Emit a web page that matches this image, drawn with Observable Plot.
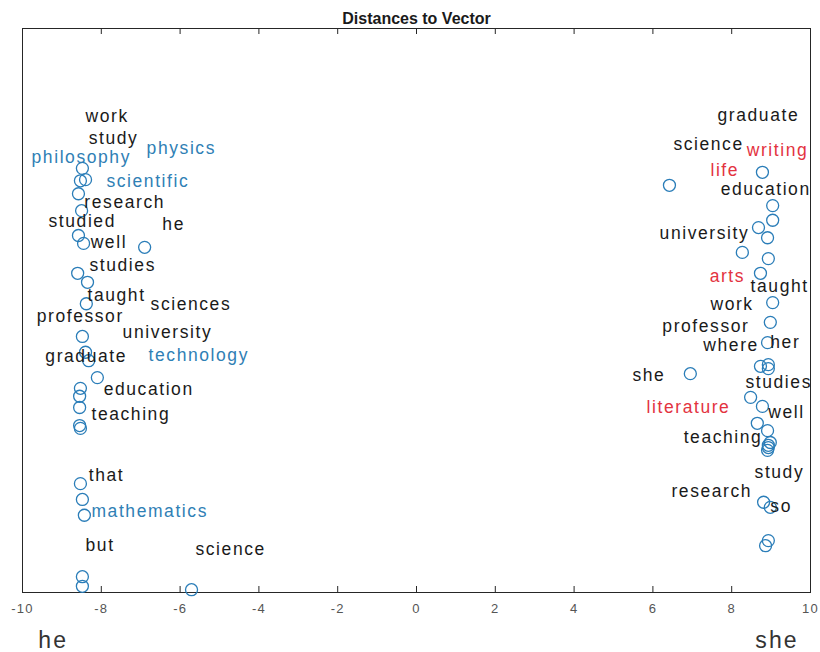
<!DOCTYPE html>
<html>
<head>
<meta charset="utf-8">
<script src="https://cdn.jsdelivr.net/npm/d3@7"></script>
<script src="https://cdn.jsdelivr.net/npm/@observablehq/plot@0.6"></script>
<style>
  html, body { margin: 0; padding: 0; background: #fff; }
  #chart svg { display: block; }
</style>
</head>
<body>
<div id="chart"></div>
<script>
// ---- Data (x = distance value, y = vertical position in 0..100 plot units) ----
const circleX = [
  -8.48, -8.53, -8.40, -8.58, -8.50, -8.58, -8.45, -6.90, -8.60, -8.35, -8.38, -8.48, -8.40,
  -8.32, -8.10, -8.53, -8.55, -8.55, -8.55, -8.53, -8.53, -8.48, -8.43, -8.48, -8.48, -5.71,
  8.78, 6.42, 9.04, 9.04, 8.68, 8.91, 8.27, 8.93, 8.73, 9.04, 8.98, 8.91, 8.73, 8.93,
  8.93, 6.95, 8.48, 8.78, 8.65, 8.91, 8.98, 8.93, 8.93, 8.91, 8.81, 8.98, 8.93, 8.86
];
const circleY = [
  75.2, 73.0, 73.2, 70.7, 67.7, 63.3, 61.9, 61.2, 56.6, 55.0, 51.2, 45.4, 42.6,
  41.1, 38.1, 36.2, 34.8, 32.8, 29.6, 29.1, 19.3, 16.5, 13.7, 2.8, 1.1, 0.5,
  74.5, 72.2, 68.6, 66.0, 64.7, 62.9, 60.3, 59.2, 56.6, 51.4, 47.9, 44.3, 40.1, 40.4,
  39.7, 38.8, 34.6, 33.0, 30.0, 28.7, 26.6, 26.1, 25.7, 25.2, 16.0, 15.1, 9.2, 8.3
];

const words = [
  "work", "study", "philosophy", "physics", "scientific", "research", "studied", "he", "well",
  "studies", "taught", "sciences", "professor", "university", "graduate", "technology",
  "education", "teaching", "that", "mathematics", "but", "science",
  "graduate", "science", "writing", "life", "education", "university", "arts", "taught",
  "work", "professor", "where", "her", "she", "studies", "literature", "well", "teaching",
  "study", "research", "so"
];
const wordX = [
  -8.40, -8.32, -9.77, -6.85, -7.87, -8.43, -9.34, -6.45, -8.27,
  -8.30, -8.35, -6.75, -9.64, -7.46, -9.42, -6.80,
  -7.94, -8.25, -8.32, -8.25, -8.40, -5.61,
  7.64, 6.52, 8.38, 7.46, 7.72, 6.17, 7.44, 8.48,
  7.46, 6.24, 7.28, 8.98, 5.48, 8.35, 5.84, 8.93, 6.78,
  8.58, 6.47, 8.98
];
const wordY = [
  84.4, 80.5, 77.1, 78.7, 72.9, 69.1, 65.8, 65.2, 62.1,
  58.0, 52.7, 51.1, 48.9, 46.1, 41.8, 42.0,
  36.0, 31.6, 20.7, 14.4, 8.3, 7.6,
  84.6, 79.4, 78.4, 74.8, 71.5, 63.7, 56.0, 54.3,
  51.1, 47.2, 43.8, 44.3, 38.5, 37.2, 32.8, 31.9, 27.5,
  21.3, 17.9, 15.2
];
// group: "n" neutral, "m" male-leaning highlight, "f" female-leaning highlight
const wordGroup = [
  "n", "n", "m", "m", "m", "n", "n", "n", "n",
  "n", "n", "n", "n", "n", "n", "m",
  "n", "n", "n", "m", "n", "n",
  "n", "n", "f", "f", "n", "n", "f", "n",
  "n", "n", "n", "n", "n", "n", "f", "n", "n",
  "n", "n", "n"
];
const xTicks = [-10, -8, -6, -4, -2, 0, 2, 4, 6, 8, 10];
const endLabels = ["he", "she"];
const endLabelX = [-9.22, 9.15];
const title = "Distances to Vector";

// ---- Build tables ----
const circles = circleX.map((x, i) => ({x, y: circleY[i]}));
const labels = words.map((w, i) => ({w, x: wordX[i], y: wordY[i], g: wordGroup[i]}));
const ends = endLabels.map((t, i) => ({t, x: endLabelX[i]}));
const groupColor = {n: "#1a1a1a", m: "#2f80b5", f: "#e3333f"};

const chart = Plot.plot({
  width: 820,
  height: 652,
  marginLeft: 22,
  marginRight: 10,
  marginTop: 28,
  marginBottom: 60,
  style: {fontFamily: "'Liberation Sans', Arial, sans-serif", background: "#fff", overflow: "visible"},
  x: {domain: [-10, 10], axis: null},
  y: {domain: [0, 100], axis: null},
  marks: [
    Plot.ruleX(xTicks, {x: d => d, insetTop: 558, stroke: "#262626", strokeWidth: 1}),
    Plot.ruleX(xTicks, {x: d => d, insetBottom: 558, stroke: "#262626", strokeWidth: 1}),
    Plot.frame({stroke: "#262626", strokeWidth: 1}),
    Plot.text(xTicks, {
      x: d => d, text: d => String(d), frameAnchor: "bottom", dy: 16,
      fontSize: 13, fill: "#555", textAnchor: "middle", lineAnchor: "middle"
    }),
    Plot.dot(circles, {x: "x", y: "y", r: 6, stroke: "#2a7db8", strokeWidth: 1.3, fill: "none"}),
    Plot.text(labels, {
      x: "x", y: "y", text: "w", fill: d => groupColor[d.g],
      fontSize: 17.5, textAnchor: "start", lineAnchor: "middle"
    }),
    Plot.text(ends, {
      x: "x", text: "t", frameAnchor: "bottom", dy: 48,
      fontSize: 23, fill: "#333", textAnchor: "middle", lineAnchor: "middle"
    }),
    Plot.text([title], {
      frameAnchor: "top", dy: -10, text: d => d,
      fontSize: 16, fontWeight: "bold", fill: "#1a1a1a", lineAnchor: "middle"
    })
  ]
});
chart.querySelectorAll("text").forEach(t => {
  if (t.textContent !== title) t.style.letterSpacing = "0.09em";
});
document.getElementById("chart").appendChild(chart);
</script>
</body>
</html>
